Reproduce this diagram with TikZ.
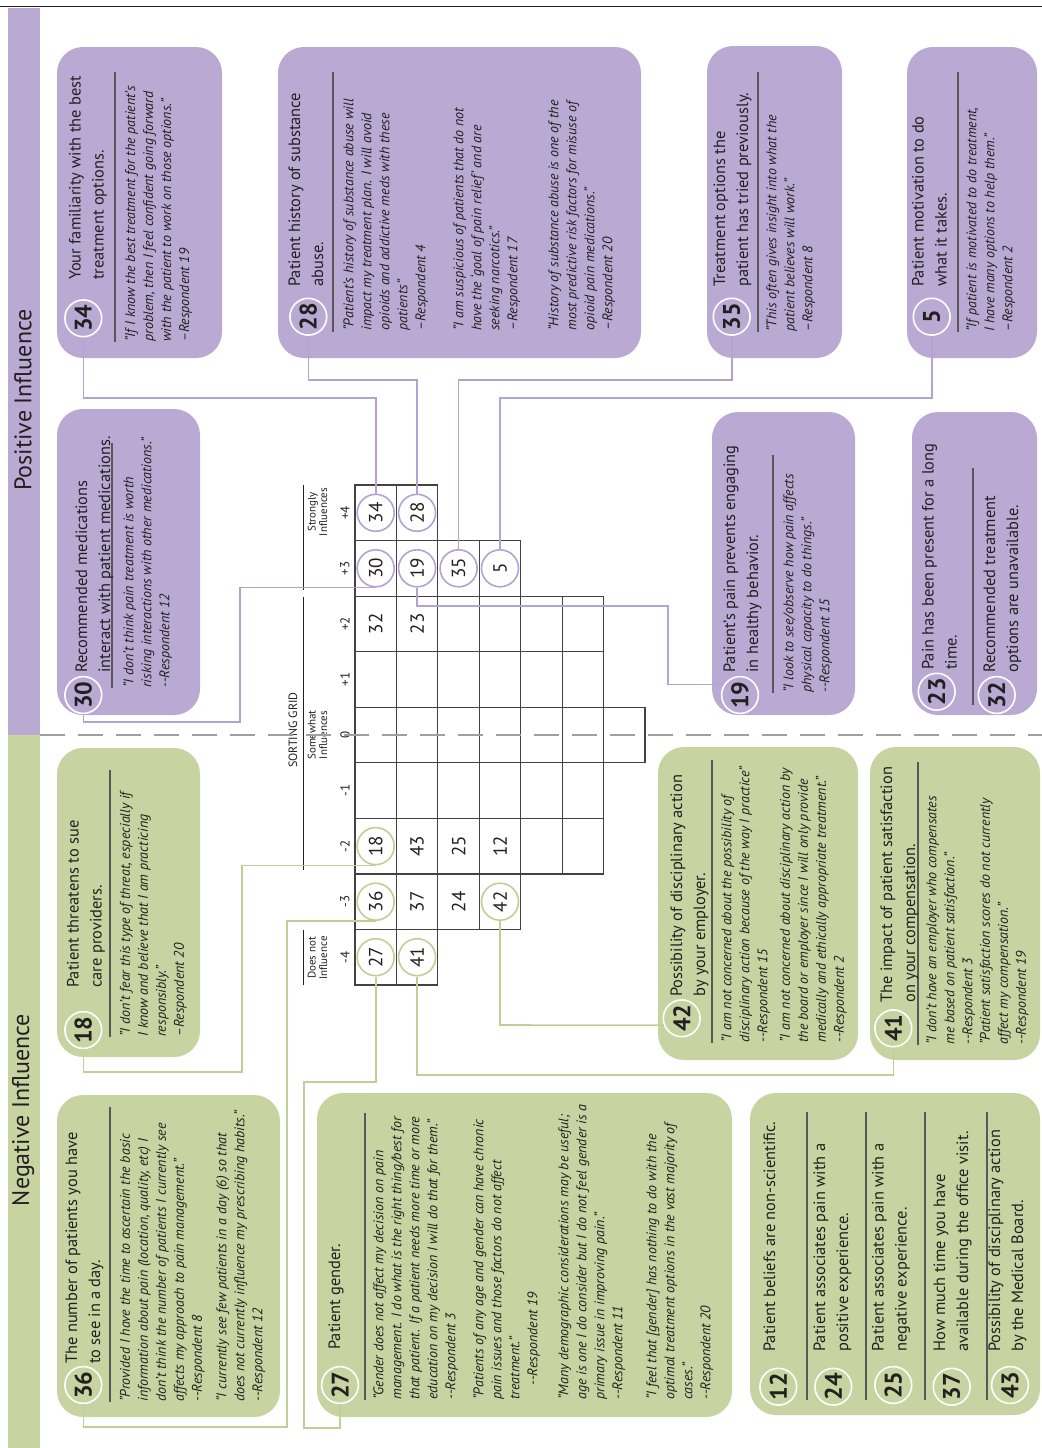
\documentclass[tikz,border=0pt]{standalone}
\usepackage{fontspec}
\setmainfont{PT Sans}
\usepackage{graphicx}
\usetikzlibrary{calc}

\definecolor{purp}{RGB}{186,170,211}
\definecolor{grn}{RGB}{199,211,161}
\definecolor{purpln}{RGB}{180,162,211}
\definecolor{grnln}{RGB}{192,207,150}
\definecolor{ink}{RGB}{35,31,32}

\newcommand{\up}[1]{\rotatebox{90}{#1}}

\tikzset{
  ttl/.style={rotate=90, anchor=north west, inner sep=0pt, align=left, text=ink,
    font=\fontsize{8.2}{11.5}\selectfont},
  qt/.style={rotate=90, anchor=north west, inner sep=0pt, align=left, text=ink,
    font=\itshape\fontsize{7}{9}\selectfont},
  bnum/.style={circle, draw=white, line width=0.8pt, minimum size=18.4pt, inner sep=0pt,
    text=ink, font=\bfseries\fontsize{12}{12}\selectfont},
  gnum/.style={circle, fill=white, line width=0.8pt, minimum size=18.5pt, inner sep=0pt,
    text=ink, font=\fontsize{9.5}{9.5}\selectfont},
  cnum/.style={inner sep=0pt, text=ink, font=\fontsize{9.5}{9.5}\selectfont},
  sepln/.style={draw=ink!75, line width=0.6pt},
  cell/.style={draw=ink!85, line width=0.6pt},
  pbox/.style={fill=purp, rounded corners=13pt},
  gbox/.style={fill=grn, rounded corners=13pt},
  pcon/.style={draw=purpln, line width=0.8pt},
  gcon/.style={draw=grnln, line width=0.8pt},
  hdr/.style={rotate=90, inner sep=0pt, align=center, text=ink,
    font=\fontsize{5.5}{5.8}\selectfont},
}

\begin{document}
\begin{tikzpicture}[x=0.5pt,y=0.5pt,yscale=-1,xscale=1]
\useasboundingbox (0,0) rectangle (1042,1448);

% side bands
\fill[purp] (8,8) rectangle (40,735);
\fill[grn] (8,735) rectangle (40,1448);
\draw[ink, line width=0.7pt] (0,6.5) -- (1042,6.5);
\node[rotate=90, text=ink, font=\fontsize{12}{12}\selectfont] (posinf) at (23,400) {Positive Influence};
\node[rotate=90, text=ink, font=\fontsize{12}{12}\selectfont] (neginf) at (23,1110) {Negative Influence};

% boxes
\fill[pbox] (57,47) rectangle (222,358);
\fill[pbox] (278,47) rectangle (641,358);
\fill[pbox] (707,46) rectangle (842,358);
\fill[pbox] (907,47) rectangle (1037,358);
\fill[pbox] (57,409) rectangle (200,715);
\fill[pbox] (712,412) rectangle (855,715);
\fill[pbox] (912,412) rectangle (1037,715);
\fill[gbox] (57,748) rectangle (200,1057);
\fill[gbox] (658,747) rectangle (858,1060);
\fill[gbox] (870,747) rectangle (1040,1060);
\fill[gbox] (57,1095) rectangle (280,1417);
\fill[gbox] (317,1093) rectangle (732,1417);
\fill[gbox] (750,1093) rectangle (1040,1415);

% separators
\draw[sepln] (115,72) -- (115,342);
\draw[sepln] (333,72) -- (333,332);
\draw[sepln] (758,72) -- (758,332);
\draw[sepln] (958,72) -- (958,332);
\draw[sepln] (112,443) -- (112,688);
\draw[sepln] (773,455) -- (773,693);
\draw[sepln] (973,468) -- (973,705);
\draw[sepln] (110,770) -- (110,1037);
\draw[sepln] (712,760) -- (712,1043);
\draw[sepln] (918,762) -- (918,1045);
\draw[sepln] (110,1107) -- (110,1402);
\draw[sepln] (365,1113) -- (365,1400);
\foreach \sx in {807,866,925,987}
  \draw[sepln] (\sx,1112) -- (\sx,1400);

% Text Node: positive side
\node[ttl] (t34) at (68.5,280) {Your familiarity with the best\\treatment options.};
\node[qt] (q34) at (124.7,342) {"If I know the best treatment for the patient's\\problem, then I feel confident going forward\\with the patient to work on those options."\\--Respondent 19};
\node[ttl] (t28) at (288,287) {Patient history of substance\\abuse.};
\node[qt] (q28a) at (343,331) {"Patient's history of substance abuse will\\impact my treatment plan. I will avoid\\opioids and addictive meds with these\\patients"\\--Respondent 4};
\node[qt] (q28b) at (453,331) {"I am suspicious of patients that do not\\have the `goal of pain relief' and are\\seeking narcotics."\\--Respondent 17};
\node[qt] (q28c) at (548,331) {"History of substance abuse is one of the\\most predictive risk factors for misuse of\\opioid pain medications."\\--Respondent 20};
\node[ttl] (t35) at (713,287) {Treatment options the\\patient has tried previously.};
\node[qt] (q35) at (766,332) {"This often gives insight into what the\\patient believes will work."\\--Respondent 8};
\node[ttl] (t5) at (911.5,287) {Patient motivation to do\\what it takes.};
\node[qt] (q5) at (966,332) {"If patient is motivated to do treatment,\\I have many options to help them."\\--Respondent 2};
\node[ttl] (t30) at (75,673) {Recommended medications\\interact with patient medications.};
\node[qt] (q30) at (123,688) {"I don't think pain treatment is worth\\risking interactions with other medications."\\-{}-Respondent 12};
\node[ttl] (t19) at (723,673) {Patient's pain prevents engaging\\in healthy behavior.};
\node[qt] (q19) at (783,693) {"I look to see/observe how pain affects\\physical capacity to do things."\\-{}-Respondent 15};
\node[ttl] (t23) at (921.5,670) {Pain has been present for a long\\time.};
\node[ttl] (t32) at (983,673) {Recommended treatment\\options are unavailable.};

% Text Node: negative side
\node[ttl] (t18) at (66.5,988) {Patient threatens to sue\\care providers.};
\node[qt] (q18) at (119.5,1037) {"I don't fear this type of  threat, especially if\\I know and believe that I am practicing\\responsibly."\\--Respondent 20};
\node[ttl] (t42) at (670,997) {Possibility of disciplinary action\\by your employer.};
\node[qt] (q42a) at (721,1043) {"I am not concerned about the possibility of\\disciplinary action because of the way I practice"\\-{}-Respondent 15};
\node[qt] (q42b) at (779.5,1043) {"I am not concerned about disciplinary action by\\the board or employer since I will only provide\\medically and ethically appropriate treatment."\\-{}-Respondent 2};
\node[ttl] (t41) at (880,1003) {The impact of patient satisfaction\\on your compensation.};
\node[qt] (q41a) at (926,1045) {"I don't have an employer who compensates\\me based on patient satisfaction."\\-{}-Respondent 3};
\node[qt] (q41b) at (979.5,1045) {"Patient satisfaction scores do not currently\\affect my compensation."\\-{}-Respondent 19};
\node[ttl] (t36) at (65,1364) {The number of patients you have\\to see in a day.};
\node[qt] (q36a) at (119.5,1402) {"Provided I have the time to ascertain the basic\\information about pain (location, quality, etc) I\\don't think the number of patients I currently see\\affects my approach to pain management."\\-{}-Respondent 8};
\node[qt] (q36b) at (216,1402) {"I currently see few patients in a day (6) so that\\does not currently influence my prescribing habits."\\-{}-Respondent 12};
\node[ttl] (t27) at (328,1350) {Patient gender.};
\node[qt] (q27a) at (373,1400) {"Gender does not affect my decision on pain\\management. I do what is the right thing/best for\\that patient. If a patient needs more time or more\\education on my decision I will do that for them."\\-{}-Respondent 3};
\node[qt] (q27b) at (473,1400) {"Patients of any age and gender can have chronic\\pain issues and those factors do not affect\\treatment."\\\hspace*{7pt}-{}-Respondent 19};
\node[qt] (q27c) at (558,1400) {"Many demographic considerations may be useful;\\age is one I do consider but I do not feel gender is a\\primary issue in improving pain."\\-{}-Respondent 11};
\node[qt] (q27d) at (646,1400) {"I feel that [gender] has nothing to do with the\\optimal treatment options in the vast majority of\\cases."\\-{}-Respondent 20};
\node[ttl] (t12) at (763,1352) {Patient beliefs are non-scientific.};
\node[ttl] (t24) at (813,1352) {Patient associates pain with a\\positive experience.};
\node[ttl] (t25) at (871.5,1352) {Patient associates pain with a\\negative experience.};
\node[ttl] (t37) at (933,1352) {How much time you have\\available during the office visit.};
\node[ttl] (t43) at (988,1352) {Possibility of disciplinary action\\by the Medical Board.};

% sorting grid
\foreach \k/\n/\lab in {0/2/+4,1/4/+3,2/6/+2,3/6/+1,4/7/0,5/6/-1,6/6/-2,7/4/-3,8/2/-4}{
  \foreach \r in {1,...,\n}
    \draw[cell] ({355+(\r-1)*41.43},{485+\k*55.56}) rectangle ++(41.43,55.56);
  \node[inner sep=0pt, text=ink, font=\fontsize{6.5}{6.5}\selectfont] (lab\k) at (345,{512.8+\k*55.56}) {\up{\lab}};
}
\draw[ink, line width=0.5pt] (303,485) -- (303,590);
\draw[ink, line width=0.5pt] (303,597) -- (303,870);
\draw[ink, line width=0.5pt] (303,930) -- (303,985);
\node[hdr] (hstr) at (317.5,512) {Strongly\\Influences};
\node[hdr] (hsom) at (317.5,735) {Somewhat\\Influences};
\node[hdr] (hdoes) at (317.5,958) {Does not\\Influence};
\node[rotate=90, inner sep=0pt, text=ink, font=\fontsize{6}{6}\selectfont] (sgrid) at (293,730) {SORTING GRID};

\draw[draw=gray!75, line width=0.7pt, dash pattern=on 12.5pt off 6.5pt] (40,735) -- (1042,735);

% grid entries
\node[cnum] (c32) at (375.7,623.9) {\up{32}};
\node[cnum] (c23) at (417.1,623.9) {\up{23}};
\node[cnum] (c43) at (417.1,846.1) {\up{43}};
\node[cnum] (c25) at (458.6,846.1) {\up{25}};
\node[cnum] (c12) at (500,846.1) {\up{12}};
\node[cnum] (c37) at (417.1,901.7) {\up{37}};
\node[cnum] (c24) at (458.6,901.7) {\up{24}};
\node[gnum, draw=purpln] (g34) at (375.7,512.8) {\up{34}};
\node[gnum, draw=purpln] (g28) at (417.1,512.8) {\up{28}};
\node[gnum, draw=purpln] (g30) at (375.7,568.3) {\up{30}};
\node[gnum, draw=purpln] (g19) at (417.1,568.3) {\up{19}};
\node[gnum, draw=purpln] (g35) at (458.6,568.3) {\up{35}};
\node[gnum, draw=purpln] (g5) at (500,568.3) {\up{5}};
\node[gnum, draw=grnln] (g18) at (375.7,846.1) {\up{18}};
\node[gnum, draw=grnln] (g36) at (375.7,901.7) {\up{36}};
\node[gnum, draw=grnln] (g42) at (500,901.7) {\up{42}};
\node[gnum, draw=grnln] (g27) at (375.7,957.2) {\up{27}};
\node[gnum, draw=grnln] (g41) at (417.1,957.2) {\up{41}};

% box numbers
\node[bnum, fill=purp] (b34) at (83.3,318.3) {\up{34}};
\node[bnum, fill=purp] (b28) at (308.3,316.7) {\up{28}};
\node[bnum, fill=purp] (b35) at (731.7,316.7) {\up{35}};
\node[bnum, fill=purp] (b5) at (931.7,316.7) {\up{5}};
\node[bnum, fill=purp] (b30) at (83.3,695) {\up{30}};
\node[bnum, fill=purp] (b19) at (740,695) {\up{19}};
\node[bnum, fill=purp] (b23) at (936.7,691.7) {\up{23}};
\node[bnum, fill=purp] (b32) at (996.7,695) {\up{32}};
\node[bnum, fill=grn] (b18) at (83.3,1030) {\up{18}};
\node[bnum, fill=grn] (b42) at (681.7,1018.3) {\up{42}};
\node[bnum, fill=grn] (b41) at (893.3,1028.3) {\up{41}};
\node[bnum, fill=grn] (b36) at (83.3,1385) {\up{36}};
\node[bnum, fill=grn] (b27) at (340,1385) {\up{27}};
\node[bnum, fill=grn] (b12) at (778.3,1386.7) {\up{12}};
\node[bnum, fill=grn] (b24) at (833.3,1386.7) {\up{24}};
\node[bnum, fill=grn] (b25) at (893.3,1385) {\up{25}};
\node[bnum, fill=grn] (b37) at (951.7,1386.7) {\up{37}};
\node[bnum, fill=grn] (b43) at (1010,1385) {\up{43}};

% connectors
\draw[pcon] (b34) -- (b34 |- 0,398) -| (g34);
\draw[pcon] (b28) -- (b28 |- 0,380) -| (g28);
\draw[pcon] (g35) -- (g35 |- 0,380) -| (b35);
\draw[pcon] (g5) -- (g5 |- 0,398) -| (b5);
\draw[pcon] (b30) -- (b30 |- 0,722) -| (240,0 |- g30.south) -- (g30.south);
\draw[pcon] (g19.south) |- (668,606) |- (b19.147);
\draw[gcon] (g18.south) -| (242,1072) -| (b18);
\draw[gcon] (g36.south) -| (287,1427) -| (b36);
\draw[gcon] (g27) -- (g27 |- 0,1082) -| (304,1428) -| (b27);
\draw[gcon] (g41) -- (g41 |- 0,1075) -| (b41);
\draw[gcon] (g42) -- (g42 |- 0,1025) -- (b42.201);

\end{tikzpicture}
\end{document}
